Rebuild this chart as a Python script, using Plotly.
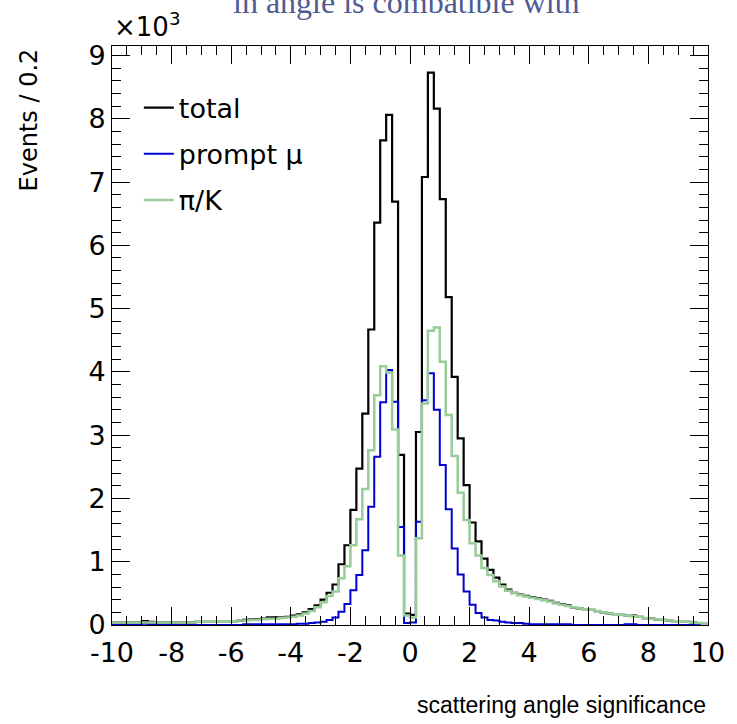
import numpy as np
import plotly.graph_objects as go

# ---- data (events per 0.2 bin, in units of 10^3) ----
BIN_LO = -10.0
BIN_WIDTH = 0.2

total = [0.04, 0.04, 0.04, 0.04, 0.04, 0.06, 0.05, 0.04, 0.04, 0.04,
         0.04, 0.04, 0.04, 0.04, 0.05, 0.05, 0.05, 0.05, 0.06, 0.06,
         0.06, 0.07, 0.08, 0.09, 0.09, 0.10, 0.12, 0.12, 0.12, 0.13,
         0.15, 0.17, 0.20, 0.25, 0.31, 0.40, 0.51, 0.64, 0.96, 1.26,
         1.82, 2.47, 3.34, 4.67, 6.36, 7.66, 8.06, 6.69, 2.69, 0.18,
         0.16, 3.05, 7.08, 8.73, 8.16, 6.73, 5.18, 3.92, 2.95, 2.21,
         1.62, 1.32, 1.05, 0.87, 0.75, 0.64, 0.56, 0.51, 0.48, 0.46,
         0.44, 0.42, 0.40, 0.38, 0.35, 0.33, 0.31, 0.28, 0.26, 0.25,
         0.24, 0.22, 0.20, 0.18, 0.17, 0.16, 0.15, 0.15, 0.13, 0.11,
         0.10, 0.09, 0.08, 0.07, 0.06, 0.05, 0.05, 0.04, 0.03, 0.02]

prompt_mu = [0.00, 0.00, 0.00, 0.00, 0.00, 0.02, 0.01, 0.00, 0.00, 0.00,
             0.00, 0.00, 0.00, 0.00, 0.00, 0.00, 0.00, 0.00, 0.00, 0.00,
             0.00, 0.00, 0.01, 0.01, 0.01, 0.01, 0.01, 0.01, 0.01, 0.01,
             0.01, 0.02, 0.02, 0.03, 0.04, 0.05, 0.08, 0.12, 0.21, 0.33,
             0.55, 0.79, 1.18, 1.87, 2.66, 3.52, 4.03, 3.53, 1.55, 0.03,
             0.04, 1.63, 3.55, 3.98, 3.40, 2.53, 1.83, 1.21, 0.80, 0.53,
             0.32, 0.19, 0.12, 0.08, 0.07, 0.05, 0.04, 0.03, 0.03, 0.02,
             0.01, 0.01, 0.01, 0.01, 0.01, 0.01, 0.01, 0.00, 0.00, 0.00,
             0.00, 0.00, 0.00, 0.00, 0.00, 0.00, 0.01, 0.01, 0.00, 0.00,
             0.00, 0.00, 0.00, 0.00, 0.00, 0.00, 0.00, 0.00, 0.00, 0.00]

pi_k = [0.04, 0.04, 0.04, 0.04, 0.04, 0.04, 0.04, 0.04, 0.04, 0.04,
        0.04, 0.04, 0.04, 0.04, 0.05, 0.05, 0.05, 0.05, 0.06, 0.06,
        0.06, 0.07, 0.07, 0.08, 0.08, 0.09, 0.10, 0.10, 0.11, 0.12,
        0.13, 0.15, 0.18, 0.22, 0.28, 0.36, 0.46, 0.53, 0.74, 0.93,
        1.26, 1.67, 2.15, 2.76, 3.63, 4.09, 3.99, 3.09, 1.10, 0.15,
        0.12, 1.37, 3.50, 4.65, 4.70, 4.16, 3.32, 2.67, 2.09, 1.66,
        1.29, 1.10, 0.90, 0.79, 0.69, 0.61, 0.54, 0.50, 0.47, 0.45,
        0.43, 0.41, 0.39, 0.37, 0.34, 0.32, 0.30, 0.28, 0.26, 0.25,
        0.24, 0.22, 0.20, 0.18, 0.17, 0.16, 0.15, 0.14, 0.13, 0.11,
        0.10, 0.09, 0.08, 0.07, 0.06, 0.05, 0.05, 0.04, 0.03, 0.02]

x_tick_vals = [-10, -8, -6, -4, -2, 0, 2, 4, 6, 8, 10]
x_tick_text = ["-10", "-8", "-6", "-4", "-2", "0", "2", "4", "6", "8", "10"]
y_tick_vals = [0, 1, 2, 3, 4, 5, 6, 7, 8, 9]
y_tick_text = ["0", "1", "2", "3", "4", "5", "6", "7", "8", "9"]

series = [
    ("total", total, "#000000", 2.2),
    ("prompt \u03bc", prompt_mu, "#0000d0", 2.0),
    ("\u03c0/K", pi_k, "#98cc98", 2.5),
]

edges = np.round(BIN_LO + BIN_WIDTH * np.arange(len(total) + 1), 3)

FONT = "DejaVu Sans"

fig = go.Figure()
for i, (name, vals, color, lw) in enumerate(series):
    fig.add_trace(go.Scatter(
        x=edges, y=list(vals) + [vals[-1]],
        mode="lines", line=dict(shape="hv", color=color, width=lw),
        name=name, legendgroup=f"g{i}",
    ))

axis_common = dict(
    showline=True, linecolor="black", linewidth=1, mirror="ticks",
    ticks="inside", ticklen=18, tickwidth=1, tickcolor="black",
    showgrid=False, zeroline=False,
    tickfont=dict(family=FONT, size=27, color="black"),
)

fig.update_xaxes(range=[-10, 10], tickvals=x_tick_vals, ticktext=x_tick_text,
                 ticklabelstandoff=4,
                 minor=dict(ticks="inside", ticklen=9, dtick=0.5, tick0=0,
                            tickcolor="black", showgrid=False),
                 **axis_common)
fig.update_yaxes(range=[0, 9.15], tickvals=y_tick_vals, ticktext=y_tick_text,
                 minor=dict(ticks="inside", ticklen=9, dtick=0.2, tick0=0,
                            tickcolor="black", showgrid=False),
                 **axis_common)

fig.update_layout(
    width=737, height=724,
    margin=dict(l=112, r=22, t=46, b=99),
    paper_bgcolor="white", plot_bgcolor="white",
    showlegend=True,
    legend=dict(x=0.045, y=0.935, xanchor="left", yanchor="top",
                bgcolor="rgba(0,0,0,0)", borderwidth=0,
                font=dict(family=FONT, size=27, color="black"),
                tracegroupgap=8, itemwidth=30),
    annotations=[
        dict(text="in angle is combatible with", xref="paper", yref="paper",
             x=(410 - 112) / 603, y=1 + 24 / 579, xanchor="center",
             yanchor="bottom", showarrow=False,
             font=dict(family="Liberation Serif", size=32, color="#4f5b93")),
        dict(text="\u00d710<sup>3</sup>", xref="paper", yref="paper",
             x=0.0, y=1 + 2 / 579, xanchor="left", yanchor="bottom",
             showarrow=False, font=dict(family=FONT, size=26, color="black")),
        dict(text="Events / 0.2", xref="paper", yref="paper",
             x=-84 / 603, y=1.0, xanchor="center", yanchor="top",
             textangle=-90, showarrow=False,
             font=dict(family=FONT, size=24, color="black")),
        dict(text="scattering angle significance", xref="paper", yref="paper",
             x=1.0, y=-80 / 579, xanchor="right", yanchor="middle",
             showarrow=False,
             font=dict(family="Liberation Sans", size=23, color="black")),
    ],
)

fig.write_html("out.html")
